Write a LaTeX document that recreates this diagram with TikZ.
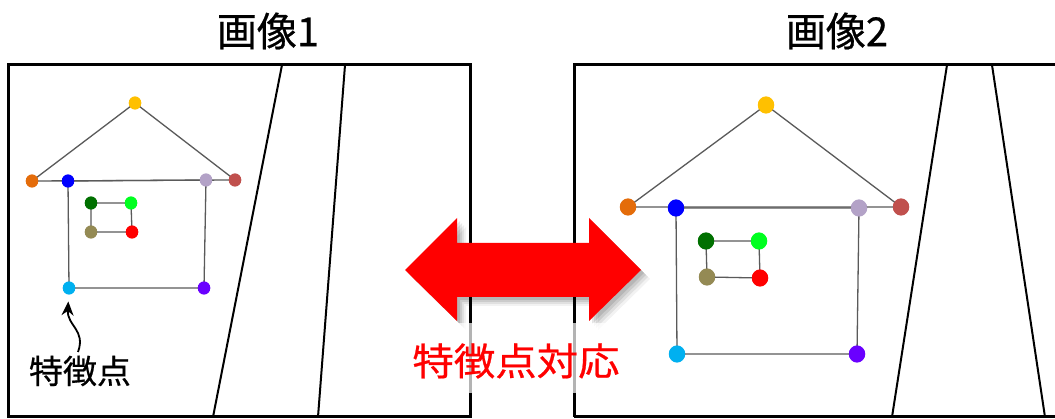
\documentclass[tikz,border=0pt]{standalone}
\usepackage{fontspec}
\newfontfamily\cjk[FakeBold=0.6]{Noto Sans CJK JP}
\usetikzlibrary{arrows.meta}
\definecolor{cYellow}{HTML}{FFC000}
\definecolor{cOrange}{HTML}{E46C0A}
\definecolor{cBlue}{HTML}{0000FF}
\definecolor{cLav}{HTML}{B3A2C7}
\definecolor{cBrown}{HTML}{C0504D}
\definecolor{cDGreen}{HTML}{007000}
\definecolor{cGreen}{HTML}{00FF20}
\definecolor{cOlive}{HTML}{948A54}
\definecolor{cRed}{HTML}{FF0000}
\definecolor{cCyan}{HTML}{00B0F0}
\definecolor{cPurple}{HTML}{6A00FF}
\definecolor{edgegray}{HTML}{5A5A5A}
\tikzset{
  frame/.style={line width=3pt, black},
  road/.style={line width=2pt, black},
  edge/.style={line width=1.3pt, edgegray},
  dotA/.style={circle, inner sep=0pt, minimum size=12.5pt, fill=#1},
  dotB/.style={circle, inner sep=0pt, minimum size=16.5pt, fill=#1},
  title/.style={font=\cjk\fontsize{40}{48}\selectfont, text=black, inner sep=0pt},
}
\begin{document}
\begin{tikzpicture}[x=1pt,y=-1pt]
\useasboundingbox (0,0) rectangle (1055,419);
\fill[white] (0,0) rectangle (1055,419);

% titles
\node[title] (t1) at (268,31) {画像1};
\node[title] (t2) at (837,31) {画像2};

% frames
\draw[frame] (8,65) rectangle (470,417);
\draw[frame] (574,417) -- (574,65) -- (1070,65);
\draw[frame] (574,417) -- (1070,417);

% road lines
\draw[road] (282,65) -- (213,417);
\draw[road] (345,65) -- (318,417);
\draw[road] (947,65) -- (892,417);
\draw[road] (992,65) -- (1045,417);

% left house dots
\node[dotA=cYellow] (LY) at (135,103) {};
\node[dotA=cOrange] (LO) at (32,181) {};
\node[dotA=cBlue]   (LB) at (68,181) {};
\node[dotA=cLav]    (LL) at (206,180) {};
\node[dotA=cBrown]  (LR) at (235,180) {};
\node[dotA=cDGreen] (LDG) at (91,203) {};
\node[dotA=cGreen]  (LG) at (131,203) {};
\node[dotA=cOlive]  (LOl) at (91,232) {};
\node[dotA=cRed]    (LRd) at (132,232) {};
\node[dotA=cCyan]   (LC) at (69,288) {};
\node[dotA=cPurple] (LP) at (204,288) {};

% right house dots
\node[dotB=cYellow] (RY) at (766,105) {};
\node[dotB=cOrange] (RO) at (628,207) {};
\node[dotB=cBlue]   (RB) at (676,208) {};
\node[dotB=cLav]    (RL) at (859,208) {};
\node[dotB=cBrown]  (RR) at (901,207) {};
\node[dotB=cDGreen] (RDG) at (706,241) {};
\node[dotB=cGreen]  (RG) at (759,241) {};
\node[dotB=cOlive]  (ROl) at (707,277) {};
\node[dotB=cRed]    (RRd) at (760,278) {};
\node[dotB=cCyan]   (RC) at (677,354) {};
\node[dotB=cPurple] (RP) at (857,354) {};

% edges
\foreach \h in {L,R}{
  \draw[edge] (\h O.center) -- (\h Y.center) -- (\h R.center) -- cycle;
  \draw[edge] (\h B.center) -- (\h L.center) -- (\h P.center) -- (\h C.center) -- cycle;
  \draw[edge] (\h DG.center) -- (\h G.center) -- (\h Rd.center) -- (\h Ol.center) -- cycle;
}

% redraw dots on top of edges
\foreach \n/\c in {LY/cYellow, LO/cOrange, LB/cBlue, LL/cLav, LR/cBrown, LDG/cDGreen, LG/cGreen, LOl/cOlive, LRd/cRed, LC/cCyan, LP/cPurple}
  \fill[\c] (\n) circle[x radius=6.2pt, y radius=6.6pt];
\foreach \n/\c in {RY/cYellow, RO/cOrange, RB/cBlue, RL/cLav, RR/cBrown, RDG/cDGreen, RG/cGreen, ROl/cOlive, RRd/cRed, RC/cCyan, RP/cPurple}
  \fill[\c] (\n) circle[x radius=8pt, y radius=8.6pt];

% label 特徴点 with curved arrow
\node[font=\cjk\fontsize{33}{40}\selectfont, inner sep=0pt, xscale=1.03] (lbl) at (80,371) {特徴点};
\coordinate (lblarrow) at (78,352);
\draw[line width=1.8pt, -{Stealth[length=14pt,width=12pt]}, shorten >=7pt]
  (lblarrow) .. controls (86,330) and (67,326) .. (LC);

% double arrow with soft shadow
\foreach \o/\a in {9/0.05,7/0.07,5/0.09,3/0.1}{
  \fill[black, opacity=\a] ([shift={(\o,\o)}]405,270) -- ++(52,-52) -- ++(0,25) -- ++(132,0) -- ++(0,-25) -- ++(52,52) -- ++(-52,51) -- ++(0,-24) -- ++(-132,0) -- ++(0,24) -- cycle;
}
\coordinate (arL) at (405,270);
\coordinate (arR) at (641,270);
\fill[cRed] (arL) -- (457,218) -- (457,243) -- (589,243) -- (589,218) -- (arR) -- (589,321) -- (589,297) -- (457,297) -- (457,321) -- cycle;

% label 特徴点対応
\fill[white, opacity=0.7] (397,323) rectangle (652,393);
\node[font=\cjk\fontsize{38}{46}\selectfont, text=cRed, inner sep=0pt, xscale=1.09] (corr) at (516,361) {特徴点対応};
\end{tikzpicture}
\end{document}
